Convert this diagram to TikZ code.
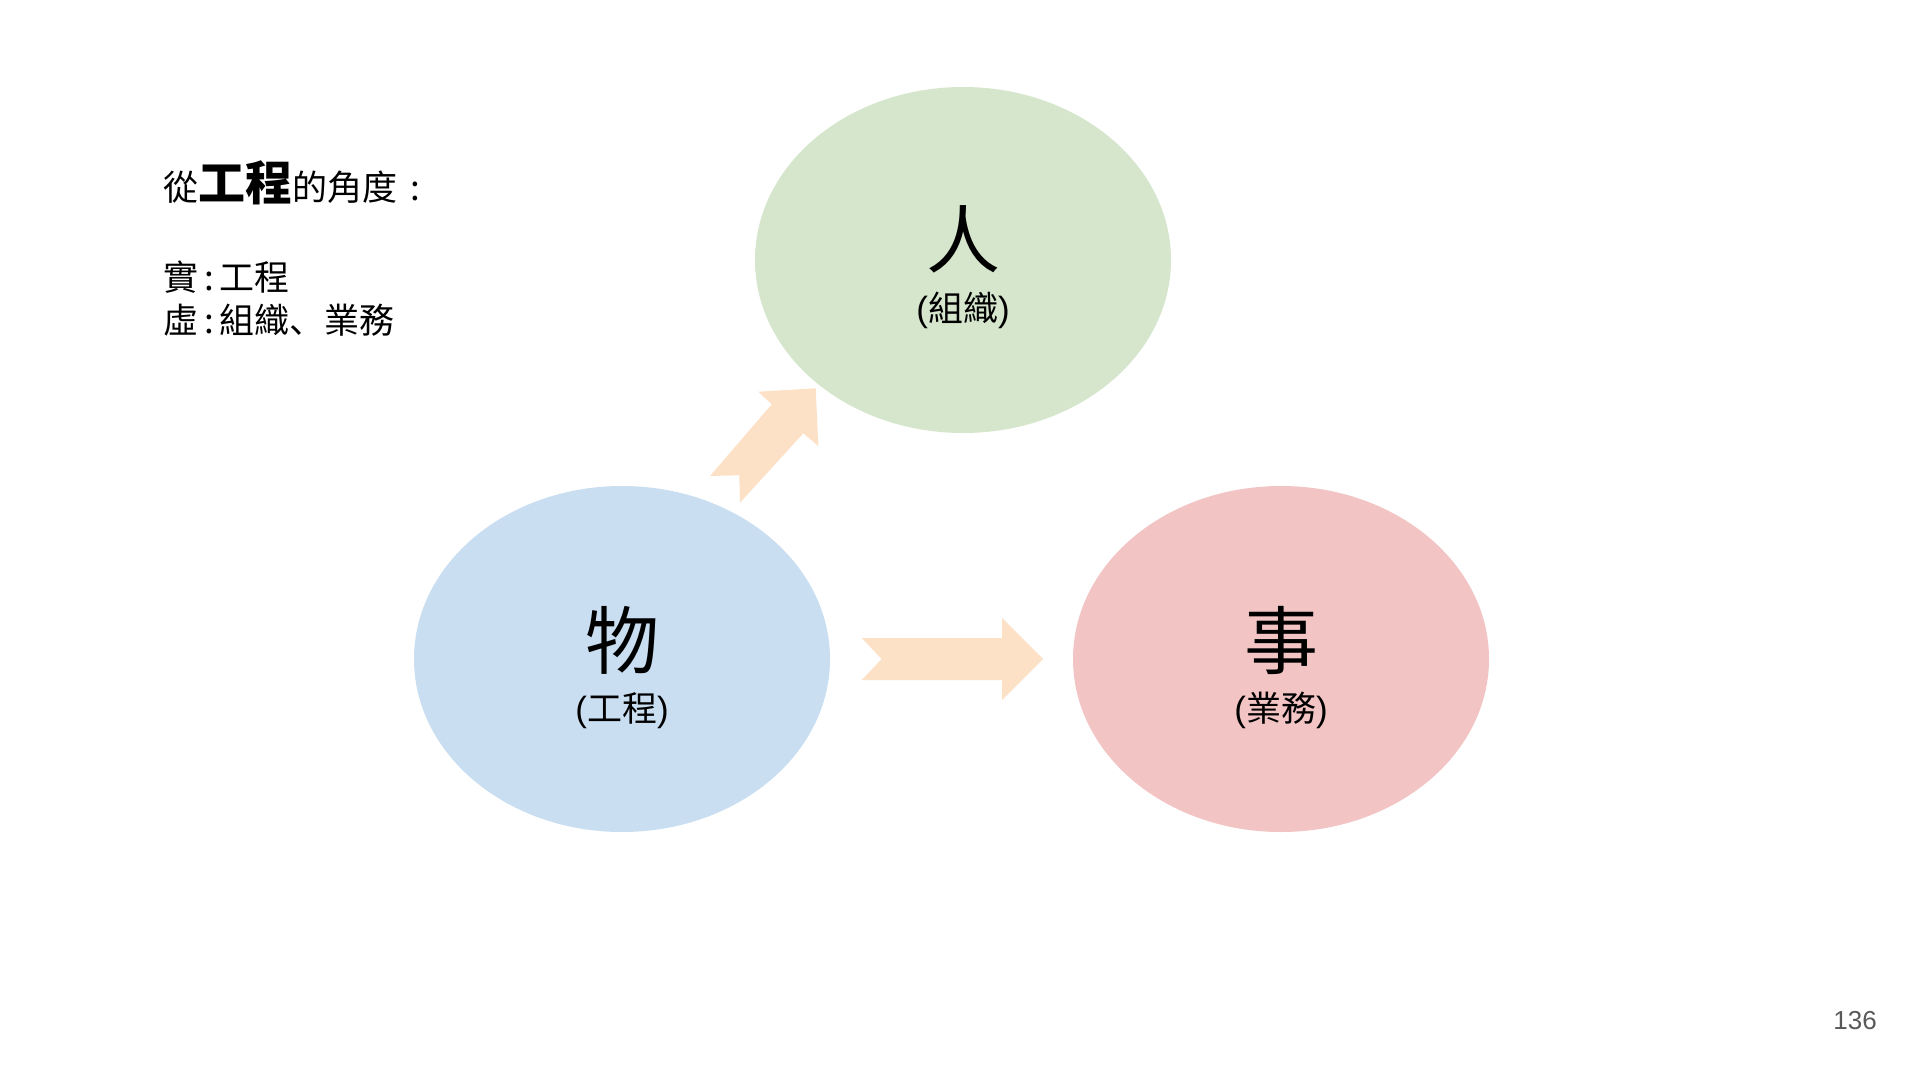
\documentclass[tikz,border=0pt]{standalone}
\usepackage{fontspec}
\setmainfont{Noto Sans CJK TC}
\newfontfamily\latinsans{Liberation Sans}
\newfontfamily\jpfont{Noto Sans CJK JP}
\definecolor{greenfill}{HTML}{D5E6CD}
\definecolor{bluefill}{HTML}{C9DEF1}
\definecolor{redfill}{HTML}{F2C4C4}
\definecolor{arrowfill}{HTML}{FCE1C7}
\definecolor{pagegray}{HTML}{595959}
\newcommand{\lp}{{\latinsans(}}
\newcommand{\rp}{{\latinsans)}}
\tikzset{
  circ/.style={ellipse, minimum width=416pt, minimum height=346pt, inner sep=0pt},
  bigchar/.style={anchor=base, font=\fontsize{74pt}{80pt}\selectfont},
  subtext/.style={anchor=base, font=\fontsize{35pt}{40pt}\selectfont},
  bigarrow/.style={fill=arrowfill, draw=none},
  notes/.style={anchor=base west, font=\fontsize{35pt}{42pt}\selectfont, inner sep=0pt},
}
\usetikzlibrary{shapes.geometric}
\begin{document}
\begin{tikzpicture}[x=1pt,y=-1pt]
\useasboundingbox[fill=white] (0,0) rectangle (1921,1081);

% three ellipses
\node[circ, fill=greenfill] (ren) at (963,260) {};
\node[circ, fill=bluefill] (wu) at (622,659) {};
\node[circ, fill=redfill] (shi) at (1281,659) {};

% labels inside the ellipses
\node[bigchar] (renc) at (963,267) {人};
\node[subtext] (rens) at (963,321) {\lp 組織\rp};
\node[bigchar] (wuc) at (622,668) {物};
\node[subtext] (wus) at (622,721) {\lp 工程\rp};
\node[bigchar] (shic) at (1281,668) {事};
\node[subtext] (shis) at (1281,721) {\lp 業務\rp};

% block arrows
\fill[bigarrow] (861.7,638) -- (1002,638) -- (1002,618) -- (1043,659)
  -- (1002,700) -- (1002,680) -- (861.7,680) -- (881.7,659) -- cycle;
\fill[bigarrow] (710,476) -- (771.7,404.3) -- (758.3,391.7) -- (815.7,388.3)
  -- (818.3,446) -- (803.3,433.3) -- (740,502.7) -- (739.3,475.3) -- cycle;

% notes at top left
\node[notes] (n1) at (163,200) {從{\fontsize{47pt}{52pt}\selectfont\bfseries 工程}的角度\hspace{13pt}:};
\node[notes] (n2) at (163,290) {實\,:\,工程};
\node[notes] (n3) at (163,333) {虛\,:\,組織{\jpfont 、}業務};

% page number
\node[anchor=base east, inner sep=0pt, text=pagegray, font=\latinsans\fontsize{26pt}{30pt}\selectfont] (pg) at (1877,1029) {136};
\end{tikzpicture}
\end{document}
